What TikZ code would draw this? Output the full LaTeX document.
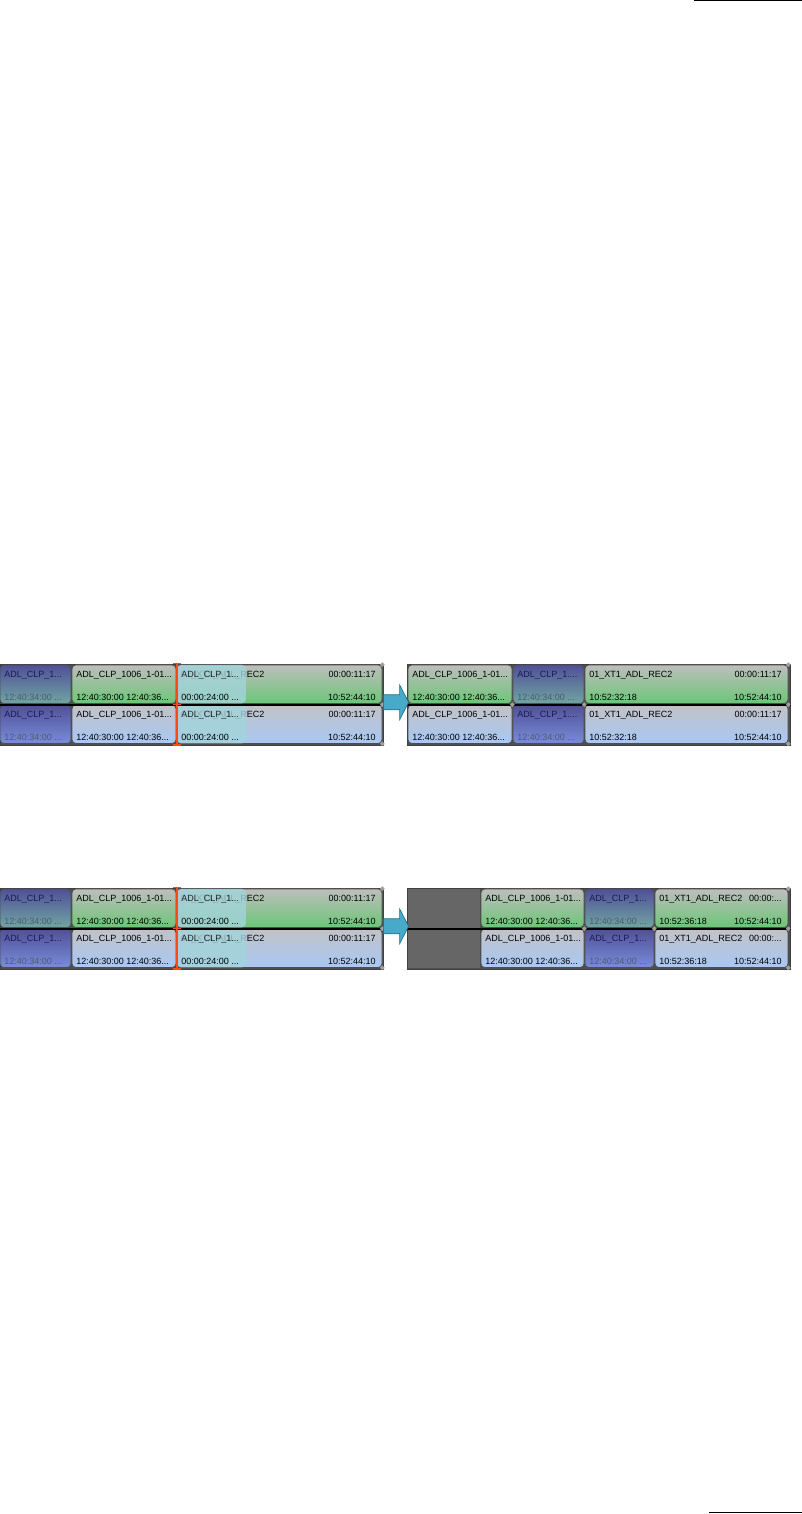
\documentclass[tikz,border=0pt]{standalone}
\usepackage{fontspec}
\setmainfont{Liberation Sans}
\usepackage{xcolor}
\usepackage{tikz}
\usetikzlibrary{positioning}
\usetikzlibrary{shapes.geometric}

\definecolor{vtop}{RGB}{80,80,152}
\definecolor{vbotg}{RGB}{112,165,162}
\definecolor{vbotb}{RGB}{122,140,218}
\definecolor{gtop}{RGB}{190,190,190}
\definecolor{gbot}{RGB}{108,198,118}
\definecolor{btop}{RGB}{194,194,198}
\definecolor{bbot}{RGB}{168,200,246}
\definecolor{ghostc}{RGB}{162,212,218}
\definecolor{fillerc}{RGB}{102,102,102}
\definecolor{paneldk}{RGB}{78,78,78}
\definecolor{arrfill}{RGB}{70,170,200}
\definecolor{arrline}{RGB}{38,108,138}
\definecolor{cursorc}{RGB}{255,72,20}
\definecolor{vtxt}{RGB}{26,26,86}
\definecolor{vsub}{RGB}{72,94,114}

% one clip on a track: name, fill, left x, right x, top y, four texts
\newcommand{\tlclip}[9]{%
  \node[clipbox, #2, minimum width={#4-#3}] (#1) at ({(#3+#4)/2},{#5-19.25}) {};
  \node[cliptext, anchor=base west] (#1tl) at ([shift={(4.5pt,-13pt)}]#1.north west) {#6};
  \node[cliptext, anchor=base east] (#1tr) at ([shift={(-6.5pt,-13pt)}]#1.north east) {#7};
  \node[cliptext, anchor=base west] (#1bl) at ([shift={(4.5pt,-35.5pt)}]#1.north west) {#8};
  \node[cliptext, anchor=base east] (#1br) at ([shift={(-6.5pt,-35.5pt)}]#1.north east) {#9};
}

\begin{document}
\begin{tikzpicture}[x=1pt, y=1pt,
        panel/.style={rectangle, fill=paneldk, draw=gray!50!black, line width=0.6pt,
            minimum height=81pt, inner sep=0pt},
        clipbox/.style={rectangle, rounded corners=4pt, draw=paneldk, line width=0.6pt,
            minimum height=38.5pt, inner sep=0pt},
        cliptext/.style={font=\fontsize{9}{10}\selectfont, inner sep=0pt, text=black},
        ghostbox/.style={rectangle, rounded corners=4pt, fill=ghostc, fill opacity=0.82,
            minimum width=69pt, minimum height=38.5pt, inner sep=0pt},
        fillerbox/.style={rectangle, fill=fillerc, minimum width=72pt, minimum height=78.5pt,
            inner sep=0pt},
        rowsep/.style={black, line width=1.6pt},
        cursor/.style={cursorc, line width=1.6pt},
        joint/.style={diamond, fill=gray!75, inner sep=0pt, minimum size=5pt},
        bigarrow/.style={fill=arrfill, draw=arrline, line width=0.7pt, line join=miter},
        pagerule/.style={black, line width=1pt}
    ]

    \useasboundingbox (0,0) rectangle (802,1514);

    % header and footer rules
    \coordinate (hdr) at (694,1513.5);
    \coordinate (ftr) at (709,1);
    \draw[pagerule] (hdr) -- (hdr -| 802,0);
    \draw[pagerule] (ftr) -- (ftr -| 802,0);

    % both timelines before the edit (left)
    \foreach \fy/\fig in {850/a, 626/b} {
        \node[panel, anchor=north west, minimum width=383pt] (\fig L) at (0,\fy) {};
        \node[panel, anchor=north west, minimum width=383pt] (\fig R) at (407,\fy) {};
        \foreach \ry/\rw/\ct/\cb/\cv in {1/1/gtop/gbot/vbotg, 41/2/btop/bbot/vbotb} {
            \tlclip{\fig\rw A}{top color=vtop, bottom color=\cv}{0}{71}{\fy-\ry}
                {{\color{vtxt}ADL\_CLP\_1...}}{}{{\color{vsub}12:40:34:00 ...}}{}
            \tlclip{\fig\rw B}{top color=\ct, bottom color=\cb}{72}{176}{\fy-\ry}
                {ADL\_CLP\_1006\_1-01...}{}{12:40:30:00 12:40:36...}{}
            \tlclip{\fig\rw C}{top color=\ct, bottom color=\cb}{177}{382}{\fy-\ry}
                {01\_XT1\_ADL\_REC2}{00:00:11:17}{}{10:52:44:10}
            % clip being dragged
            \node[ghostbox, anchor=north west] (\fig\rw G) at (\fig\rw C.north west) {};
            \node[cliptext, anchor=base west, text=black!85] (\fig\rw Gt)
                at ([shift={(4.5pt,-13pt)}]\fig\rw G.north west) {ADL\_CLP\_1...};
            \node[cliptext, anchor=base west] (\fig\rw Gb)
                at ([shift={(4.5pt,-35.5pt)}]\fig\rw G.north west) {00:00:24:00 ...};
        }
    }

    % result of the first edit
    \foreach \ry/\rw/\ct/\cb/\cv in {1/1/gtop/gbot/vbotg, 41/2/btop/bbot/vbotb} {
        \tlclip{a\rw P}{top color=\ct, bottom color=\cb}{408}{512}{850-\ry}
            {ADL\_CLP\_1006\_1-01...}{}{12:40:30:00 12:40:36...}{}
        \tlclip{a\rw Q}{top color=vtop, bottom color=\cv}{513}{584}{850-\ry}
            {{\color{vtxt}ADL\_CLP\_1....}}{}{{\color{vsub}12:40:34:00 ...}}{}
        \tlclip{a\rw S}{top color=\ct, bottom color=\cb}{585}{788}{850-\ry}
            {01\_XT1\_ADL\_REC2}{00:00:11:17}{10:52:32:18}{10:52:44:10}
    }

    % result of the second edit, with a gap in front
    \node[fillerbox, anchor=north west] (bF) at (408,625) {};
    \foreach \ry/\rw/\ct/\cb/\cv in {1/1/gtop/gbot/vbotg, 41/2/btop/bbot/vbotb} {
        \tlclip{b\rw P}{top color=\ct, bottom color=\cb}{481}{584}{626-\ry}
            {ADL\_CLP\_1006\_1-01...}{}{12:40:30:00 12:40:36...}{}
        \tlclip{b\rw Q}{top color=vtop, bottom color=\cv}{585}{654}{626-\ry}
            {{\color{vtxt}ADL\_CLP\_1...}}{}{{\color{vsub}12:40:34:00 ...}}{}
        \tlclip{b\rw S}{top color=\ct, bottom color=\cb}{655}{788}{626-\ry}
            {01\_XT1\_ADL\_REC2}{00:00:...}{10:52:36:18}{10:52:44:10}
    }

    \foreach \fig in {a,b} {
        % track separators
        \draw[rowsep] (\fig L.west) -- (\fig L.east);
        \draw[rowsep] (\fig R.west) -- (\fig R.east);
        % clip ends
        \foreach \jn/\an [count=\k] in {1C/north east, 2C/north east, 2C/south east,
                1S/north east, 2S/north east, 2S/south east, 2P/north east, 2Q/north east}
            \node[joint] (\fig j\k) at (\fig\jn.\an) {};
        % edit cursor
        \draw[cursor] ([xshift=0.5pt,yshift=1pt]\fig1B.north east)
            -- ([xshift=0.5pt,yshift=-1pt]\fig2B.south east);
        \draw[cursor] ([xshift=-3.5pt,yshift=1pt]\fig1B.north east)
            -- ([xshift=4.5pt,yshift=1pt]\fig1B.north east);
        \draw[cursor] ([xshift=-3.5pt]\fig2B.north east) -- ([xshift=4.5pt]\fig2B.north east);
        \draw[cursor] ([xshift=-3.5pt,yshift=-1pt]\fig2B.south east)
            -- ([xshift=4.5pt,yshift=-1pt]\fig2B.south east);
        % arrow from before to after
        \draw[bigarrow] ([yshift=10pt]\fig L.east) -- ++(16,0) -- ++(0,10) -- ++(9,-17.5)
            -- ++(-9,-17.5) -- ++(0,10) -- ++(-16,0) -- cycle;
    }

\end{tikzpicture}
\end{document}
